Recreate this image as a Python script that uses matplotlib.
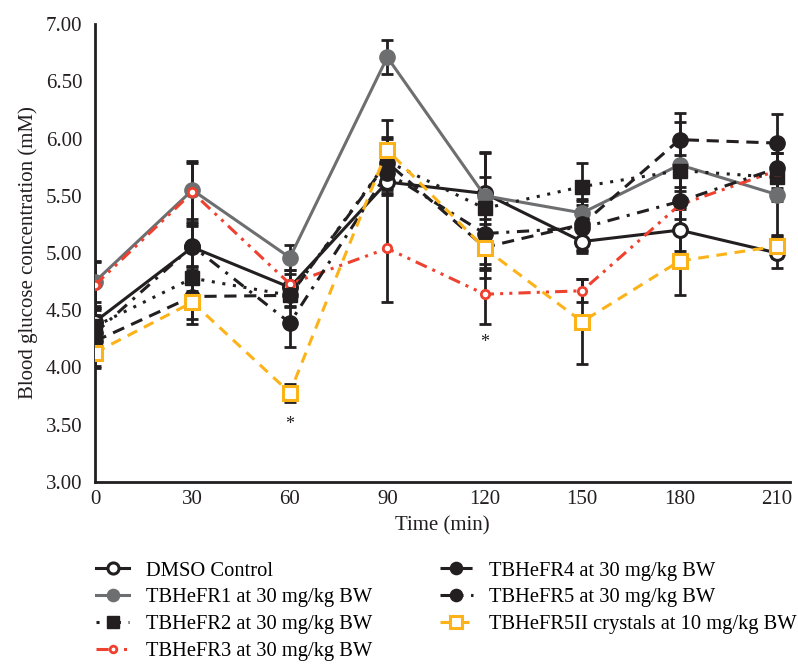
import numpy as np
import matplotlib
matplotlib.use('Agg')
import matplotlib.pyplot as plt

plt.rcParams['font.family'] = 'Liberation Serif'

tiempo = [0, 30, 60, 90, 120, 150, 180, 210]

dmso    = [4.40, 5.05, 4.70, 5.62, 5.52, 5.10, 5.20, 5.00]
fr1     = [4.75, 5.55, 4.96, 6.71, 5.50, 5.35, 5.77, 5.51]
fr2     = [4.36, 4.78, 4.63, 5.80, 5.39, 5.58, 5.72, 5.66]
fr3     = [4.72, 5.53, 4.73, 5.04, 4.64, 4.67, 5.42, 5.72]
fr4     = [4.23, 4.62, 4.63, 5.79, 5.05, 5.25, 5.99, 5.96]
fr5     = [4.30, 5.06, 4.39, 5.70, 5.17, 5.22, 5.45, 5.74]
fr5ii   = [4.13, 4.57, 3.78, 5.90, 5.04, 4.40, 4.93, 5.06]

err_dmso  = [0.14, 0.20, 0.12, 0.10, 0.35, 0.10, 0.18, 0.13]
err_fr1   = [0.18, 0.25, 0.11, 0.15, 0.38, 0.10, 0.37, 0.36]
err_fr2   = [0.16, 0.11, 0.09, 0.20, 0.27, 0.21, 0.14, 0.21]
err_fr3   = [0.20, 0.26, 0.12, 0.47, 0.26, 0.10, 0.12, 0.15]
err_fr4   = [0.23, 0.20, 0.10, 0.22, 0.20, 0.22, 0.23, 0.25]
err_fr5   = [0.20, 0.18, 0.21, 0.15, 0.30, 0.20, 0.25, 0.20]
err_fr5ii = [0.12, 0.19, 0.08, 0.26, 0.26, 0.37, 0.30, 0.10]

rotulos = ['DMSO Control', 'TBHeFR1 at 30 mg/kg BW', 'TBHeFR2 at 30 mg/kg BW',
           'TBHeFR3 at 30 mg/kg BW', 'TBHeFR4 at 30 mg/kg BW',
           'TBHeFR5 at 30 mg/kg BW', 'TBHeFR5II crystals at 10 mg/kg BW']

preto = '#231f20'
cinza = '#6d6e70'
vermelho = '#ef4130'
amarelo = '#fbb319'

series = [
    (dmso,  err_dmso,  dict(color=preto, ls='-', marker='o', mfc='white', mec=preto, ms=10, mew=2.2)),
    (fr1,   err_fr1,   dict(color=cinza, ls='-', marker='o', mfc=cinza, mec=cinza, ms=11)),
    (fr2,   err_fr2,   dict(color=preto, ls=(0, (1, 2.5)), marker='s', mfc=preto, mec=preto, ms=10)),
    (fr3,   err_fr3,   dict(color=vermelho, ls=(0, (4, 2, 1, 2, 1, 2)), marker='o', mfc='white', mec=vermelho, ms=6, mew=2)),
    (fr4,   err_fr4,   dict(color=preto, ls=(0, (4, 2.5)), marker='o', mfc=preto, mec=preto, ms=11)),
    (fr5,   err_fr5,   dict(color=preto, ls=(0, (4, 2.5, 1, 2.5)), marker='o', mfc=preto, mec=preto, ms=11)),
    (fr5ii, err_fr5ii, dict(color=amarelo, ls=(0, (3.5, 2.5)), marker='s', mfc='white', mec=amarelo, ms=10, mew=2.2)),
]

fig = plt.figure(figsize=(7.98, 6.65), dpi=100)
ax = fig.add_axes([95 / 798, 1 - 482 / 665, (790 - 95) / 798, (482 - 24) / 665])

# barras de erro primeiro, todas em preto
for y, e, _ in series:
    ax.errorbar(tiempo, y, yerr=e, fmt='none', ecolor=preto, elinewidth=2,
                capsize=4.5, capthick=2, zorder=1)

handles = []
for (y, e, estilo), rot in zip(series, rotulos):
    h, = ax.plot(tiempo, y, lw=2.2, label=rot, zorder=3, **estilo)
    handles.append(h)

ax.text(60, 3.50, '*', ha='center', va='center', fontsize=13, color=preto)
ax.text(120, 4.22, '*', ha='center', va='center', fontsize=13, color=preto)

ax.set_xlim(0, 214)
ax.set_ylim(3.0, 7.0)
ax.set_xticks(tiempo)
ax.set_yticks(np.arange(3.0, 7.01, 0.5))
ax.set_yticklabels([f'{v:.2f}' for v in np.arange(3.0, 7.01, 0.5)])
ax.tick_params(axis='both', length=0, labelsize=15, colors=preto)
ax.tick_params(axis='y', pad=9)
ax.tick_params(axis='x', pad=6)
ax.spines['top'].set_visible(False)
ax.spines['right'].set_visible(False)
for s in ['left', 'bottom']:
    ax.spines[s].set_linewidth(2)
    ax.spines[s].set_color(preto)

ax.set_xlabel('Time (min)', fontsize=15, color=preto, labelpad=5)
ax.set_ylabel('Blood glucose concentration (mM)', fontsize=15, color=preto, labelpad=6)

fig.legend(handles=handles, loc='upper left', bbox_to_anchor=(88 / 798, 1 - 553 / 665),
           ncol=2, frameon=False, fontsize=14.8, handlelength=1.6, handletextpad=0.8,
           columnspacing=3.3, labelspacing=0.36, borderaxespad=0, markerscale=0.8)

plt.savefig('out.png', dpi=100)
plt.close()
